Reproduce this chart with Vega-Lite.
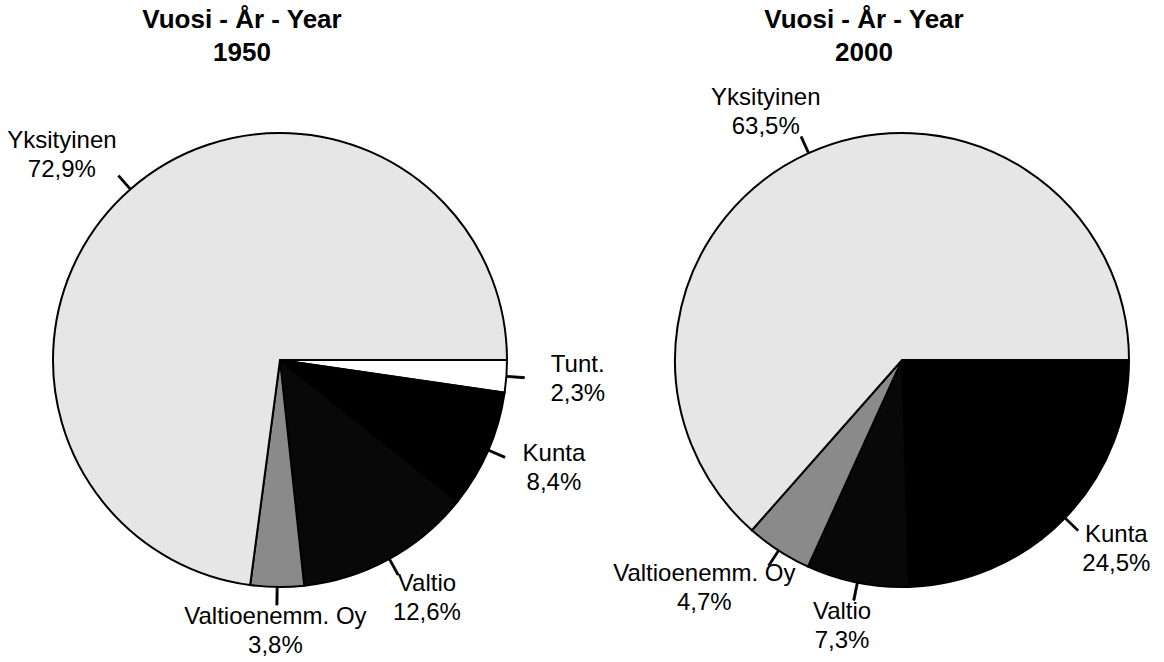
{
  "$schema": "https://vega.github.io/schema/vega-lite/v6.json",
  "background": "white",
  "padding": {"left": 0, "top": 7, "right": 0, "bottom": 0},
  "spacing": 7,
  "config": {"view": {"stroke": null}, "font": "Liberation Sans"},
  "datasets": {
    "y1950": [
      {"category": "Tunt.", "value": 2.3, "o": 1},
      {"category": "Kunta", "value": 8.4, "o": 2},
      {"category": "Valtio", "value": 12.6, "o": 3},
      {"category": "Valtioenemm. Oy", "value": 3.8, "o": 4},
      {"category": "Yksityinen", "value": 72.9, "o": 5}
    ],
    "y2000": [
      {"category": "Kunta", "value": 24.5, "o": 1},
      {"category": "Valtio", "value": 7.3, "o": 2},
      {"category": "Valtioenemm. Oy", "value": 4.7, "o": 3},
      {"category": "Yksityinen", "value": 63.5, "o": 4}
    ]
  },
  "hconcat": [
    {
      "width": 560,
      "height": 572,
      "title": {"text": ["Vuosi - År - Year", "1950"], "fontSize": 26, "fontWeight": "bold", "font": "Liberation Sans", "lineHeight": 33, "anchor": "middle", "dx": -38, "offset": 8, "color": "black"},
      "data": {"name": "y1950"},
      "transform": [
        {"window": [{"op": "sum", "field": "value", "as": "cum"}], "sort": [{"field": "o"}], "frame": [null, 0]},
        {"calculate": "datum.cum - datum.value/2", "as": "mid"},
        {"calculate": "datum.mid - 0.07", "as": "lo"},
        {"calculate": "datum.mid + 0.07", "as": "hi"},
        {"calculate": "replace(format(datum.value, '.1f'), '.', ',') + '%'", "as": "pct"},
        {"calculate": "datum.category + '\\n' + datum.pct", "as": "lbl"},
        {"calculate": "PI/2 + 2*PI*datum.mid/100", "as": "ang"},
        {"calculate": "6.5 * max(length(datum.category), length(datum.pct))", "as": "hw"},
        {"calculate": "(266 + datum.hw) * sin(datum.ang)", "as": "px"},
        {"calculate": "-272 * cos(datum.ang)", "as": "py"},
        {"calculate": "sqrt(datum.px*datum.px + datum.py*datum.py)", "as": "lr"},
        {"calculate": "(atan2(datum.px, -datum.py) - PI/2) / (2*PI) * 100", "as": "lt"}
      ],
      "layer": [
        {
          "mark": {"type": "arc", "radius": 227, "stroke": "black", "strokeWidth": 2},
          "encoding": {
            "theta": {"field": "value", "type": "quantitative", "stack": true, "scale": {"domain": [0, 100], "range": [1.5708, 7.854]}},
            "order": {"field": "o", "type": "quantitative"},
            "color": {"field": "category", "type": "nominal", "legend": null,
              "scale": {"domain": ["Tunt.", "Kunta", "Valtio", "Valtioenemm. Oy", "Yksityinen"], "range": ["#ffffff", "#000000", "#080808", "#8a8a8a", "#e6e6e6"]}}
          }
        },
        {
          "mark": {"type": "arc", "radius": 245, "radius2": 227, "fill": "black", "stroke": "black", "strokeWidth": 0.8},
          "encoding": {
            "theta": {"field": "lo", "type": "quantitative", "stack": null},
            "theta2": {"field": "hi"}
          }
        },
        {
          "mark": {"type": "text", "fontSize": 24, "lineBreak": "\n", "lineHeight": 29, "baseline": "middle", "align": "center", "dy": -14.5, "color": "black"},
          "encoding": {
            "theta": {"field": "lt", "type": "quantitative", "stack": null},
            "radius": {"field": "lr", "type": "quantitative", "scale": null},
            "text": {"field": "lbl"}
          }
        }
      ]
    },
    {
      "width": 560,
      "height": 572,
      "title": {"text": ["Vuosi - År - Year", "2000"], "fontSize": 26, "fontWeight": "bold", "font": "Liberation Sans", "lineHeight": 33, "anchor": "middle", "dx": -38, "offset": 8, "color": "black"},
      "data": {"name": "y2000"},
      "transform": [
        {"window": [{"op": "sum", "field": "value", "as": "cum"}], "sort": [{"field": "o"}], "frame": [null, 0]},
        {"calculate": "datum.cum - datum.value/2", "as": "mid"},
        {"calculate": "datum.mid - 0.07", "as": "lo"},
        {"calculate": "datum.mid + 0.07", "as": "hi"},
        {"calculate": "replace(format(datum.value, '.1f'), '.', ',') + '%'", "as": "pct"},
        {"calculate": "datum.category + '\\n' + datum.pct", "as": "lbl"},
        {"calculate": "PI/2 + 2*PI*datum.mid/100", "as": "ang"},
        {"calculate": "6.5 * max(length(datum.category), length(datum.pct))", "as": "hw"},
        {"calculate": "(266 + datum.hw) * sin(datum.ang)", "as": "px"},
        {"calculate": "-272 * cos(datum.ang)", "as": "py"},
        {"calculate": "sqrt(datum.px*datum.px + datum.py*datum.py)", "as": "lr"},
        {"calculate": "(atan2(datum.px, -datum.py) - PI/2) / (2*PI) * 100", "as": "lt"}
      ],
      "layer": [
        {
          "mark": {"type": "arc", "radius": 227, "stroke": "black", "strokeWidth": 2},
          "encoding": {
            "theta": {"field": "value", "type": "quantitative", "stack": true, "scale": {"domain": [0, 100], "range": [1.5708, 7.854]}},
            "order": {"field": "o", "type": "quantitative"},
            "color": {"field": "category", "type": "nominal", "legend": null,
              "scale": {"domain": ["Kunta", "Valtio", "Valtioenemm. Oy", "Yksityinen"], "range": ["#000000", "#1e1e1e", "#9a9a9a", "#e2e2e2"]}}
          }
        },
        {
          "mark": {"type": "arc", "radius": 245, "radius2": 227, "fill": "black", "stroke": "black", "strokeWidth": 0.8},
          "encoding": {
            "theta": {"field": "lo", "type": "quantitative", "stack": null},
            "theta2": {"field": "hi"}
          }
        },
        {
          "mark": {"type": "text", "fontSize": 24, "lineBreak": "\n", "lineHeight": 29, "baseline": "middle", "align": "center", "dy": -14.5, "color": "black"},
          "encoding": {
            "theta": {"field": "lt", "type": "quantitative", "stack": null},
            "radius": {"field": "lr", "type": "quantitative", "scale": null},
            "text": {"field": "lbl"}
          }
        }
      ]
    }
  ]
}
